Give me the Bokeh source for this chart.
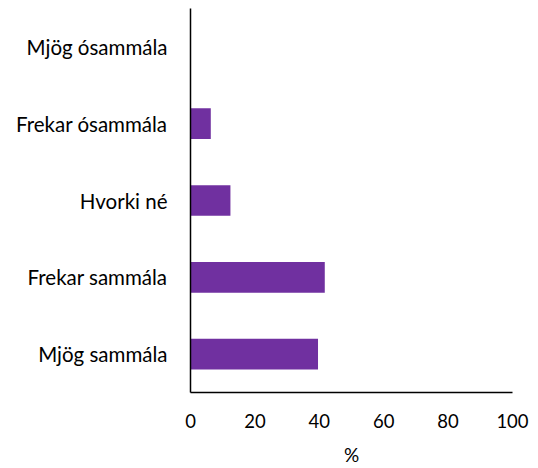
from bokeh.plotting import figure
from bokeh.models import ColumnDataSource, FixedTicker
from bokeh.embed import file_html
from bokeh.resources import INLINE

categories = ["Mjög sammála", "Frekar sammála", "Hvorki né", "Frekar ósammála", "Mjög ósammála"]
values = [39.6, 41.7, 12.4, 6.3, 0.0]
x_ticks = [0, 20, 40, 60, 80, 100]

FONT = "Lato"
source = ColumnDataSource(data=dict(cat=categories, val=values))

p = figure(width=530, height=468, y_range=categories, x_range=(0, 100),
           output_backend="svg", toolbar_location=None,
           min_border_left=190, min_border_right=18, min_border_top=8, min_border_bottom=75)
p.hbar(y="cat", right="val", left=0, height=0.4, source=source,
       fill_color="#7030A0", line_color=None)

p.outline_line_color = None
p.xgrid.grid_line_color = None
p.ygrid.grid_line_color = None

p.xaxis.ticker = FixedTicker(ticks=x_ticks)
p.xaxis.axis_line_color = "black"
p.xaxis.axis_line_width = 1.5
p.xaxis.major_tick_line_color = None
p.xaxis.minor_tick_line_color = None
p.xaxis.major_label_text_font = FONT
p.xaxis.major_label_text_font_size = "18.5px"
p.xaxis.major_label_text_color = "black"
p.xaxis.major_label_standoff = 15
p.xaxis.axis_label = "%"
p.xaxis.axis_label_text_font = FONT
p.xaxis.axis_label_text_font_size = "19px"
p.xaxis.axis_label_text_font_style = "normal"
p.xaxis.axis_label_text_color = "black"
p.xaxis.axis_label_standoff = 12

p.yaxis.axis_line_color = "black"
p.yaxis.axis_line_width = 1.5
p.yaxis.major_tick_line_color = None
p.yaxis.minor_tick_line_color = None
p.yaxis.major_label_text_font = FONT
p.yaxis.major_label_text_font_size = "20.5px"
p.yaxis.major_label_text_color = "black"
p.yaxis.major_label_standoff = 17

p.y_range.range_padding = 0

open("out.html", "w").write(file_html(p, INLINE))
